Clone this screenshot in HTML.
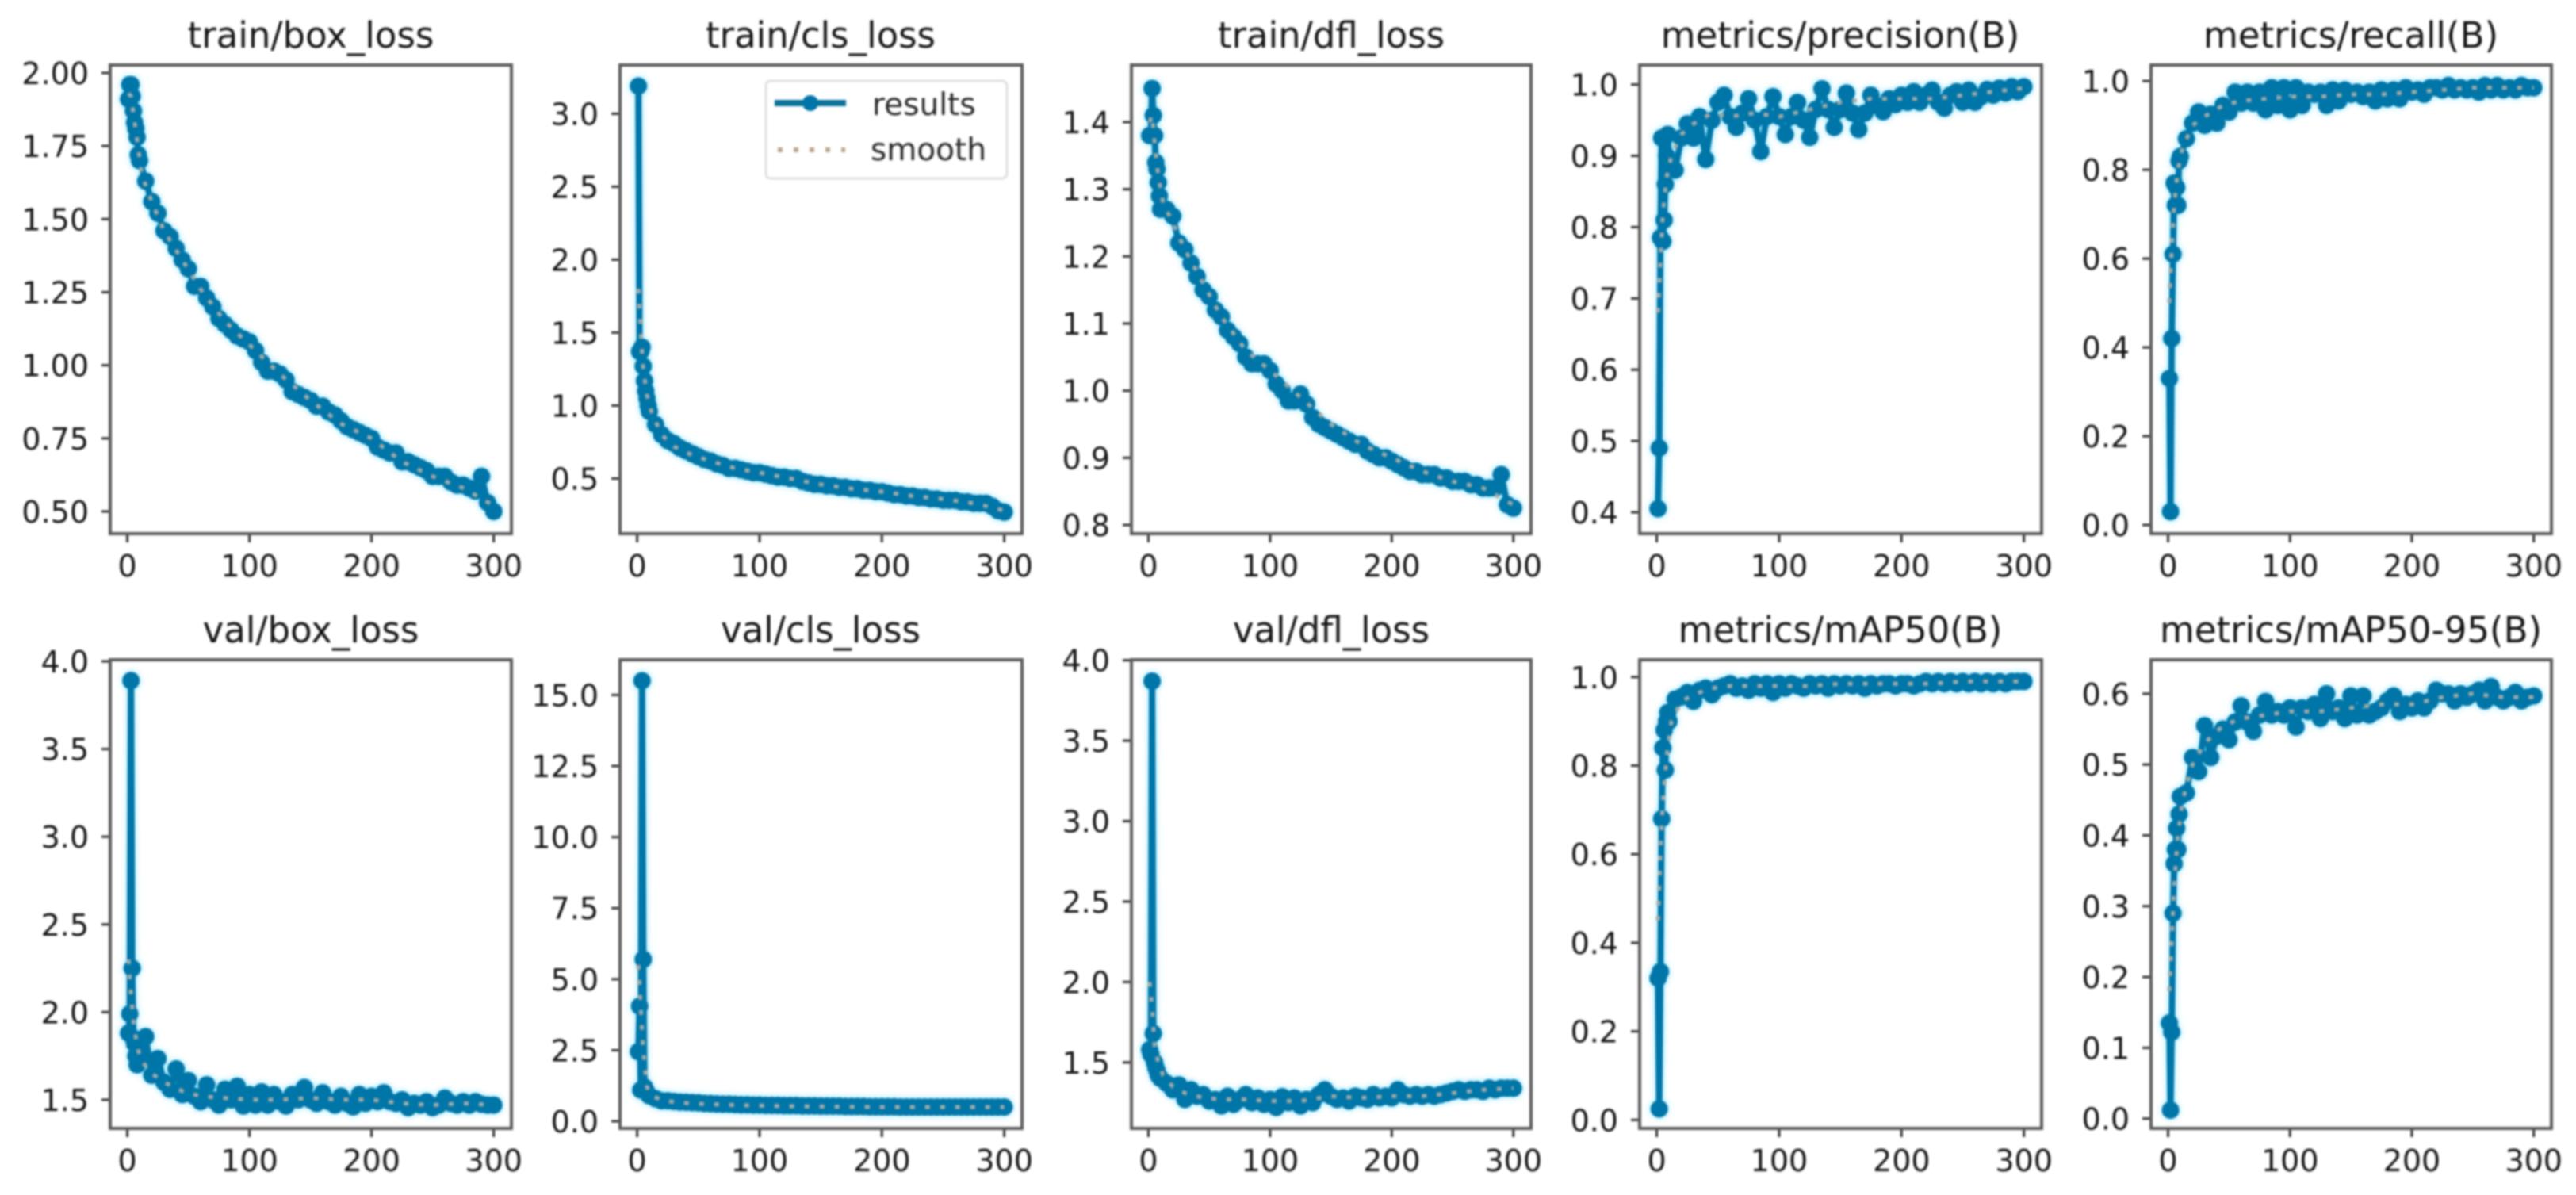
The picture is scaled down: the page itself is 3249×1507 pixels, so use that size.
<!DOCTYPE html>
<html lang="en">
<head>
<meta charset="utf-8">
<title>Training results</title>
<style>
html,body{margin:0;padding:0;background:#fff;}
#figure{display:block;width:3249px;height:1507px;filter:blur(1.3px);font-family:"DejaVu Sans","Liberation Sans",sans-serif;}
.title{font-size:45px;fill:#141414;text-anchor:middle;}
.tick-label{font-size:38px;fill:#141414;}
.legend-text{font-size:39px;fill:#2a2a2a;}
.results-group{filter:drop-shadow(0 0 4px rgba(110,225,255,.85));}
</style>
</head>
<body>
<svg id="figure" xmlns="http://www.w3.org/2000/svg" width="3249" height="1507" viewBox="0 0 3249 1507">
  <rect x="0" y="0" width="3249" height="1507" fill="#ffffff"/>
  <g id="panels"></g>
  <g>
    <text class="title" x="392" y="60">train/box_loss</text>
    <text class="title" x="1035" y="60">train/cls_loss</text>
    <text class="title" x="1679" y="60">train/dfl_loss</text>
    <text class="title" x="2321" y="60">metrics/precision(B)</text>
    <text class="title" x="2965" y="60">metrics/recall(B)</text>
    <text class="title" x="392" y="810">val/box_loss</text>
    <text class="title" x="1035" y="810">val/cls_loss</text>
    <text class="title" x="1679" y="810">val/dfl_loss</text>
    <text class="title" x="2321" y="810">metrics/mAP50(B)</text>
    <text class="title" x="2965" y="810">metrics/mAP50-95(B)</text>
  </g>
  <g>
    <rect x="966" y="102" width="304" height="123" rx="6" fill="#ffffff" stroke="#e0e0e0" stroke-width="3"/>
    <line x1="977" y1="130" x2="1067" y2="130" stroke="#0f7399" stroke-width="8"/>
    <circle cx="1022" cy="130" r="10" fill="#0076a8"/>
    <text class="legend-text" x="1100" y="145">results</text>
    <line x1="981" y1="189" x2="1066" y2="189" stroke="#bda88e" stroke-width="6" stroke-dasharray="6 14"/>
    <text class="legend-text" x="1098" y="202">smooth</text>
  </g>
</svg>
<script>
// ---- shared x data ----
const epochs = [1,2,3,4,5,6,7,8,9,10,
  15,20,25,30,35,40,45,50,55,60,
  65,70,75,80,85,90,95,100,105,110,
  115,120,125,130,135,140,145,150,155,160,
  165,170,175,180,185,190,195,200,205,210,
  215,220,225,230,235,240,245,250,255,260,
  265,270,275,280,285,290,295,300];
const smoothEpochs = [1,3,5,8,12,20,30,45,60,80,100,125,150,175,200,225,250,275,300];
const xTickValues = [0,100,200,300];

// ---- series values (epochs) ----
const trainBoxLoss = [1.91,1.96,1.96,1.92,1.87,1.83,1.81,1.78,1.72,1.70,
  1.63,1.56,1.52,1.46,1.44,1.40,1.36,1.33,1.27,1.27,
  1.23,1.20,1.16,1.14,1.12,1.10,1.09,1.08,1.05,1.01,
  .98,.98,.97,.95,.91,.90,.89,.88,.86,.86,
  .84,.83,.81,.79,.78,.77,.76,.75,.72,.71,
  .70,.70,.67,.67,.66,.65,.64,.62,.62,.62,
  .60,.59,.59,.58,.57,.62,.53,.50];
const trainClsLoss = [3.19,1.37,1.37,1.40,1.27,1.17,1.10,1.05,1.00,.96,
  .87,.80,.76,.74,.71,.69,.67,.65,.63,.62,
  .60,.59,.57,.57,.56,.55,.54,.54,.53,.52,
  .51,.51,.50,.50,.48,.47,.46,.46,.45,.45,
  .44,.44,.43,.43,.42,.42,.41,.41,.40,.39,
  .39,.38,.38,.37,.37,.36,.36,.35,.35,.35,
  .34,.34,.33,.33,.33,.31,.28,.27];
const trainDflLoss = [1.38,1.38,1.45,1.41,1.38,1.34,1.33,1.31,1.29,1.27,
  1.27,1.26,1.22,1.21,1.19,1.17,1.15,1.14,1.12,1.11,
  1.09,1.08,1.07,1.05,1.04,1.04,1.04,1.03,1.01,1.00,
  .985,.985,.995,.98,.96,.95,.945,.94,.935,.93,
  .925,.92,.92,.91,.905,.90,.90,.895,.89,.885,
  .88,.88,.875,.875,.875,.87,.87,.865,.865,.865,
  .86,.86,.855,.855,.855,.875,.83,.825];
const precision = [.405,.49,.785,.925,.78,.81,.86,.90,.93,.89,
  .88,.925,.945,.925,.955,.895,.95,.975,.985,.955,
  .94,.96,.98,.95,.906,.955,.983,.955,.93,.955,
  .975,.95,.926,.965,.994,.965,.94,.965,.988,.96,
  .937,.96,.985,.97,.962,.98,.972,.985,.975,.99,
  .975,.985,.992,.975,.967,.985,.99,.975,.992,.975,
  .983,.993,.985,.995,.988,.997,.99,.997];
const recall = [.33,.03,.42,.61,.77,.72,.76,.72,.82,.83,
  .87,.905,.93,.90,.925,.905,.945,.93,.975,.95,
  .975,.95,.975,.935,.985,.945,.985,.935,.985,.945,
  .975,.97,.975,.945,.98,.955,.98,.97,.975,.965,
  .975,.955,.98,.96,.98,.96,.985,.975,.98,.97,
  .985,.985,.98,.99,.98,.985,.98,.985,.975,.99,
  .98,.99,.98,.985,.98,.99,.985,.985];
const valBoxLoss = [1.88,1.99,3.89,2.25,1.85,1.82,1.75,1.70,1.78,1.72,
  1.86,1.64,1.735,1.60,1.56,1.676,1.53,1.61,1.52,1.49,
  1.585,1.50,1.47,1.56,1.50,1.577,1.465,1.53,1.47,1.545,
  1.47,1.53,1.49,1.465,1.53,1.50,1.57,1.50,1.48,1.54,
  1.49,1.47,1.52,1.48,1.46,1.53,1.48,1.52,1.49,1.54,
  1.49,1.48,1.50,1.455,1.48,1.47,1.49,1.455,1.47,1.51,
  1.48,1.47,1.49,1.47,1.49,1.475,1.47,1.47];
const valClsLoss = [2.45,4.05,1.1,15.5,5.7,1.2,1.1,1.0,.95,.9,
  .8,.72,.72,.70,.68,.67,.66,.65,.63,.62,
  .61,.60,.60,.59,.58,.58,.57,.57,.56,.56,
  .56,.55,.55,.55,.54,.54,.54,.53,.53,.53,
  .53,.52,.52,.52,.52,.51,.51,.51,.51,.51,
  .50,.50,.50,.50,.50,.50,.50,.50,.50,.50,
  .50,.50,.50,.50,.50,.50,.50,.50];
const valDflLoss = [1.58,1.55,3.87,1.68,1.50,1.47,1.45,1.42,1.41,1.40,
  1.37,1.33,1.36,1.27,1.33,1.29,1.30,1.26,1.27,1.23,
  1.29,1.24,1.27,1.30,1.25,1.28,1.24,1.27,1.22,1.287,
  1.25,1.28,1.23,1.27,1.25,1.30,1.33,1.29,1.27,1.28,
  1.26,1.29,1.28,1.27,1.30,1.28,1.29,1.28,1.33,1.30,
  1.29,1.30,1.29,1.30,1.29,1.30,1.31,1.32,1.33,1.32,
  1.33,1.33,1.32,1.34,1.33,1.34,1.34,1.34];
const map50 = [.32,.025,.335,.68,.84,.88,.79,.90,.92,.90,
  .95,.955,.965,.945,.97,.975,.96,.975,.98,.985,
  .975,.98,.97,.985,.975,.985,.965,.985,.975,.985,
  .98,.975,.985,.98,.985,.975,.985,.98,.985,.98,
  .985,.975,.985,.98,.985,.985,.98,.985,.985,.98,
  .985,.99,.985,.99,.985,.99,.985,.99,.985,.99,
  .985,.99,.985,.99,.985,.99,.99,.99];
const map5095 = [.135,.012,.122,.29,.36,.38,.41,.38,.43,.455,
  .46,.51,.49,.555,.51,.54,.55,.535,.56,.583,
  .56,.547,.57,.589,.57,.575,.57,.58,.553,.58,
  .575,.585,.565,.60,.575,.58,.565,.597,.57,.597,
  .57,.575,.58,.59,.597,.575,.585,.58,.59,.58,
  .59,.605,.60,.60,.59,.60,.595,.60,.605,.59,
  .61,.595,.59,.595,.602,.59,.595,.597];

// ---- smooth series (smoothEpochs) ----
const trainBoxSmooth = [1.93,1.92,1.86,1.77,1.65,1.56,1.46,1.36,1.26,1.15,1.07,.97,.88,.80,.75,.67,.62,.58,.52];
const trainClsSmooth = [1.80,1.50,1.25,1.07,.95,.80,.72,.66,.62,.57,.54,.50,.46,.43,.41,.38,.36,.33,.28];
const trainDflSmooth = [1.40,1.41,1.37,1.32,1.28,1.25,1.21,1.16,1.11,1.06,1.03,.99,.95,.92,.90,.88,.865,.855,.83];
const precisionSmooth = [.68,.75,.82,.87,.90,.93,.945,.96,.955,.96,.955,.965,.975,.98,.98,.98,.985,.99,.995];
const recallSmooth = [.50,.62,.72,.80,.85,.90,.92,.945,.955,.96,.965,.965,.97,.97,.975,.98,.985,.985,.985];
const valBoxSmooth = [2.30,2.10,1.95,1.80,1.72,1.65,1.60,1.55,1.52,1.51,1.50,1.50,1.51,1.50,1.50,1.48,1.47,1.48,1.47];
const valClsSmooth = [5.5,4.0,2.5,1.2,.9,.75,.68,.62,.6,.57,.55,.53,.52,.51,.5,.5,.5,.5,.5];
const valDflSmooth = [2.0,1.85,1.6,1.5,1.42,1.35,1.31,1.28,1.27,1.27,1.26,1.26,1.29,1.28,1.29,1.29,1.31,1.33,1.34];
const map50Smooth = [.45,.6,.72,.82,.90,.945,.96,.975,.98,.98,.98,.98,.985,.985,.985,.985,.99,.99,.99];
const map5095Smooth = [.18,.25,.33,.40,.45,.50,.53,.555,.565,.57,.575,.575,.58,.585,.585,.595,.60,.595,.595];

// ---- y tick labels ----
const trainBoxTicks = ['0.50','0.75','1.00','1.25','1.50','1.75','2.00'];
const trainClsTicks = ['0.5','1.0','1.5','2.0','2.5','3.0'];
const trainDflTicks = ['0.8','0.9','1.0','1.1','1.2','1.3','1.4'];
const precisionTicks = ['0.4','0.5','0.6','0.7','0.8','0.9','1.0'];
const unitTicks = ['0.0','0.2','0.4','0.6','0.8','1.0'];
const valBoxTicks = ['1.5','2.0','2.5','3.0','3.5','4.0'];
const valClsTicks = ['0.0','2.5','5.0','7.5','10.0','12.5','15.0'];
const valDflTicks = ['1.5','2.0','2.5','3.0','3.5','4.0'];
const map5095Ticks = ['0.0','0.1','0.2','0.3','0.4','0.5','0.6'];

// ---- axis domains ----
const xDomain = [-14, 314.5];
const trainBoxDomain = [0.424, 2.027];
const trainClsDomain = [0.122, 3.334];
const trainDflDomain = [0.787, 1.485];
const precisionDomain = [0.370, 1.0274];
const recallDomain = [-0.0196, 1.036];
const valBoxDomain = [1.337, 4.009];
const valClsDomain = [-0.25, 16.24];
const valDflDomain = [1.09, 4.003];
const map50Domain = [-0.019, 1.039];
const map5095Domain = [-0.0138, 0.648];

// ---- layout ----
const columnEdges = [[139,645],[782,1289],[1427,1931],[2068,2575],[2713,3218]];
const rowEdges = [[82,673],[832,1423]];

const panelDefs = [
  {key:'train-box-loss',col:0,row:0,values:trainBoxLoss,smooth:trainBoxSmooth,ticks:trainBoxTicks,domain:trainBoxDomain},
  {key:'train-cls-loss',col:1,row:0,values:trainClsLoss,smooth:trainClsSmooth,ticks:trainClsTicks,domain:trainClsDomain},
  {key:'train-dfl-loss',col:2,row:0,values:trainDflLoss,smooth:trainDflSmooth,ticks:trainDflTicks,domain:trainDflDomain},
  {key:'metrics-precision',col:3,row:0,values:precision,smooth:precisionSmooth,ticks:precisionTicks,domain:precisionDomain},
  {key:'metrics-recall',col:4,row:0,values:recall,smooth:recallSmooth,ticks:unitTicks,domain:recallDomain},
  {key:'val-box-loss',col:0,row:1,values:valBoxLoss,smooth:valBoxSmooth,ticks:valBoxTicks,domain:valBoxDomain},
  {key:'val-cls-loss',col:1,row:1,values:valClsLoss,smooth:valClsSmooth,ticks:valClsTicks,domain:valClsDomain},
  {key:'val-dfl-loss',col:2,row:1,values:valDflLoss,smooth:valDflSmooth,ticks:valDflTicks,domain:valDflDomain},
  {key:'metrics-map50',col:3,row:1,values:map50,smooth:map50Smooth,ticks:unitTicks,domain:map50Domain},
  {key:'metrics-map50-95',col:4,row:1,values:map5095,smooth:map5095Smooth,ticks:map5095Ticks,domain:map5095Domain}
];

const SVG_NS = 'http://www.w3.org/2000/svg';
function mk(tag, attrs, parent) {
  const el = document.createElementNS(SVG_NS, tag);
  for (const k in attrs) el.setAttribute(k, attrs[k]);
  parent.appendChild(el);
  return el;
}
function linearScale(domain, range) {
  return function (v) {
    return range[0] + (v - domain[0]) / (domain[1] - domain[0]) * (range[1] - range[0]);
  };
}
function polyline(xs, ys, xScale, yScale) {
  return xs.map(function (x, i) {
    return (i ? 'L' : 'M') + xScale(x).toFixed(1) + ' ' + yScale(ys[i]).toFixed(1);
  }).join('');
}

const root = document.getElementById('panels');
panelDefs.forEach(function (p) {
  const L = columnEdges[p.col][0], R = columnEdges[p.col][1];
  const T = rowEdges[p.row][0], B = rowEdges[p.row][1];
  const xScale = linearScale(xDomain, [L, R]);
  const yScale = linearScale(p.domain, [B, T]);

  const g = mk('g', {}, root);
  
  

  // x axis ticks
  xTickValues.forEach(function (v) {
    const t = mk('line', {x1:xScale(v), x2:xScale(v), y1:B, y2:B+11, stroke:'#333', 'stroke-width':3}, g);
    
    
    const lab = mk('text', {x:xScale(v), y:B+54, 'text-anchor':'middle', class:'tick-label'}, g);
    
    
    lab.textContent = String(v);
  });

  // y axis ticks
  p.ticks.forEach(function (s) {
    const y = yScale(parseFloat(s));
    const t = mk('line', {x1:L-11, x2:L, y1:y, y2:y, stroke:'#333', 'stroke-width':3}, g);
    
    
    const lab = mk('text', {x:L-27, y:y+14, 'text-anchor':'end', class:'tick-label'}, g);
    
    
    lab.textContent = s;
  });

  // results series
  const rg = mk('g', {class:'results-group'}, g);
  
  
  const path = mk('path', {d:polyline(epochs, p.values, xScale, yScale), fill:'none', stroke:'#0076a8', 'stroke-width':8, 'stroke-linejoin':'round'}, rg);
  
  
  p.values.forEach(function (v, i) {
    const c = mk('circle', {cx:xScale(epochs[i]).toFixed(1), cy:yScale(v).toFixed(1), r:11, fill:'#0076a8'}, rg);
    
    
  });

  // smooth series
  const sm = mk('path', {d:polyline(smoothEpochs, p.smooth, xScale, yScale), fill:'none', stroke:'#a3a8a6', 'stroke-width':5, 'stroke-dasharray':'6 13'}, g);
  
  

  // frame
  const f = mk('rect', {x:L, y:T, width:R-L, height:B-T, fill:'none', stroke:'#5a5a5a', 'stroke-width':4}, g);
  
  
});
</script>
</body>
</html>
